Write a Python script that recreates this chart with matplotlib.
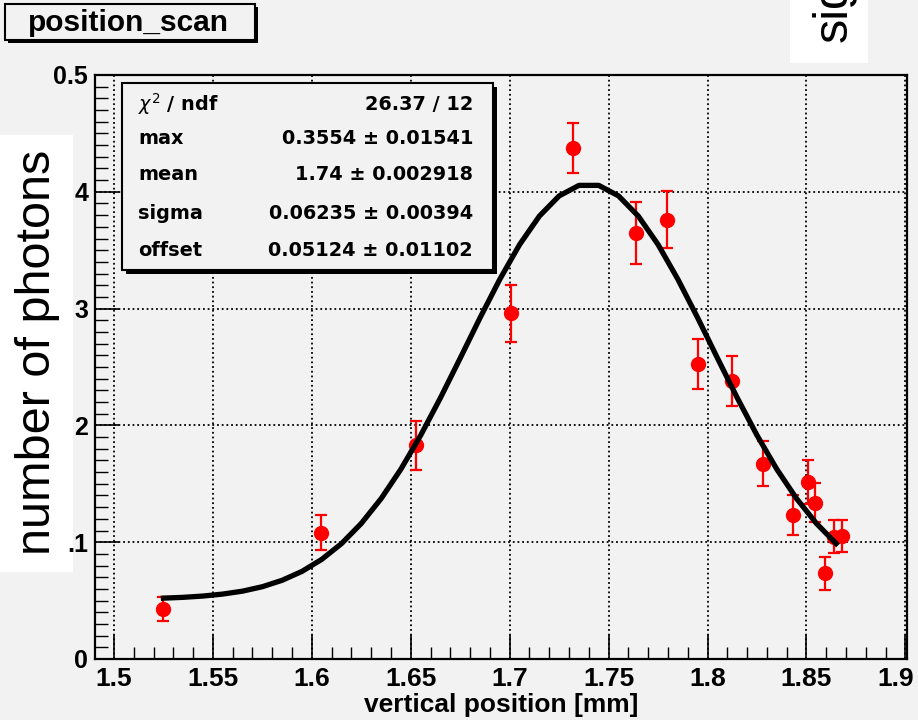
import matplotlib
matplotlib.use("Agg")
import matplotlib.pyplot as plt
from matplotlib.patches import Rectangle
from matplotlib.ticker import MultipleLocator
from matplotlib.transforms import ScaledTranslation


# measured points (vertical position in mm, signal, error)
POS_MM = [1.5247, 1.6045, 1.6525, 1.7005, 1.7318, 1.7636, 1.7793, 1.7950,
          1.8126, 1.8278, 1.8430, 1.8510, 1.8545, 1.8596, 1.8641, 1.8677]
SIGNAL = [0.0428, 0.1080, 0.1830, 0.2960, 0.4375, 0.3647, 0.3759, 0.2526,
          0.2380, 0.1670, 0.1233, 0.1515, 0.1336, 0.0736, 0.1045, 0.1053]
SIGNAL_ERR = [0.0103, 0.0150, 0.0210, 0.0244, 0.0218, 0.0265, 0.0244, 0.0218,
              0.0214, 0.0193, 0.0175, 0.0188, 0.0167, 0.0141, 0.0141, 0.0141]

# fitted curve
FIT_X = [1.525, 1.535, 1.545, 1.555, 1.565, 1.575, 1.585, 1.595, 1.605,
         1.615, 1.625, 1.635, 1.645, 1.655, 1.665, 1.675, 1.685, 1.695,
         1.705, 1.715, 1.725, 1.735, 1.745, 1.755, 1.765, 1.775, 1.785,
         1.795, 1.805, 1.815, 1.825, 1.835, 1.845, 1.855, 1.865]
FIT_Y = [0.0521, 0.0528, 0.0539, 0.0556, 0.0581, 0.0619, 0.0674, 0.0750,
         0.0853, 0.0988, 0.1161, 0.1373, 0.1625, 0.1915, 0.2236, 0.2576,
         0.2921, 0.3251, 0.3548, 0.3792, 0.3965, 0.4055, 0.4055, 0.3965,
         0.3792, 0.3548, 0.3251, 0.2921, 0.2576, 0.2236, 0.1915, 0.1625,
         0.1373, 0.1161, 0.0988]

X_TICKS = [1.5, 1.55, 1.6, 1.65, 1.7, 1.75, 1.8, 1.85, 1.9]
X_TICK_LABELS = ["1.5", "1.55", "1.6", "1.65", "1.7", "1.75", "1.8", "1.85", "1.9"]
Y_TICKS = [0.0, 0.1, 0.2, 0.3, 0.4, 0.5]
# the leading "0." of most labels is hidden behind the pasted y-title box
Y_TICK_LABELS = ["0", ".1", "2", "3", "4", "0.5"]

STAT_NAMES = [r"$\chi^{2}$ / ndf", "max", "mean", "sigma", "offset"]
STAT_VALUES = ["26.37 / 12", "0.3554 \u00b1 0.01541", "1.74 \u00b1 0.002918",
               "0.06235 \u00b1 0.00394", "0.05124 \u00b1 0.01102"]

TITLE = "position_scan"
X_LABEL = "vertical position [mm]"

BG = "#f2f2f2"
W, H = 918, 720
HELV = ["Liberation Sans", "DejaVu Sans"]


def fx(px):
    return px / W


def fy(py):
    return 1 - py / H


def box(fig, x0, y0, x1, y1, shadow=4, face=BG):
    """Framed box in pixel coordinates, ROOT style with a drop shadow."""
    if shadow:
        fig.patches.append(Rectangle((fx(x0 + shadow), fy(y1 + shadow)),
                                     fx(x1 - x0), (y1 - y0) / H,
                                     transform=fig.transFigure,
                                     facecolor="black", edgecolor="none",
                                     zorder=2))
    fig.patches.append(Rectangle((fx(x0), fy(y1)), fx(x1 - x0), (y1 - y0) / H,
                                 transform=fig.transFigure, facecolor=face,
                                 edgecolor="black", linewidth=1.5, zorder=2))


def main():
    plt.rcParams["font.family"] = ["DejaVu Sans"]
    fig = plt.figure(figsize=(W / 100, H / 100), dpi=100, facecolor=BG)

    ax = fig.add_axes([fx(95), fy(659), fx(907 - 95), (659 - 75) / H])
    ax.set_facecolor(BG)

    ax.errorbar(POS_MM, SIGNAL, yerr=SIGNAL_ERR, fmt="o", color="red",
                markersize=10, elinewidth=1.6, capsize=4.5, capthick=1.6,
                zorder=3)
    ax.plot(FIT_X, FIT_Y, color="black", linewidth=3.8, zorder=4)

    ax.set_xlim(1.4904, 1.9008)
    ax.set_ylim(0, 0.5)
    ax.set_xticks(X_TICKS)
    ax.set_xticklabels(X_TICK_LABELS, family=HELV, weight="bold", fontsize=19)
    ax.set_yticks(Y_TICKS)
    ax.set_yticklabels(Y_TICK_LABELS, family=HELV, weight="bold", fontsize=18)
    ax.xaxis.set_minor_locator(MultipleLocator(0.01))
    ax.yaxis.set_minor_locator(MultipleLocator(0.01))
    ax.tick_params(which="major", direction="in", length=17, width=1.2,
                   top=False, right=False)
    ax.tick_params(which="minor", direction="in", length=9, width=1.0,
                   top=False, right=False)
    ax.tick_params(axis="x", pad=6)
    ax.tick_params(axis="y", pad=5)
    ax.grid(True, which="major", color="black", linestyle=(0, (1, 1.6)),
            linewidth=1.3)
    for spine in ax.spines.values():
        spine.set_linewidth(1.6)

    # last x label sits a little inside the canvas, as in ROOT's output
    last = ax.get_xticklabels()[-1]
    last.set_transform(last.get_transform()
                       + ScaledTranslation(-7 / 72, 0, fig.dpi_scale_trans))

    ax.set_xlabel(X_LABEL, family=HELV, weight="bold", fontsize=19,
                  labelpad=1)

    # title box
    box(fig, 5, 4, 255, 40, shadow=3)
    fig.text(fx(128), fy(23), TITLE, ha="center", va="center",
             fontsize=21.5, weight="bold", family=HELV, zorder=3)

    # fit statistics box
    box(fig, 122, 83, 493, 270, shadow=4)
    rows_y = [104, 138, 175, 213, 250]
    for name, value, py in zip(STAT_NAMES, STAT_VALUES, rows_y):
        fig.text(fx(138), fy(py), name, ha="left", va="center",
                 fontsize=13.9, weight="bold", zorder=3)
        fig.text(fx(473), fy(py), value, ha="right", va="center",
                 fontsize=13.9, weight="bold", zorder=3)

    # pasted axis-title boxes (white, sitting on the canvas)
    fig.patches.append(Rectangle((0, fy(572)), fx(73), (572 - 135) / H,
                                 transform=fig.transFigure, facecolor="white",
                                 edgecolor="none", zorder=-1))
    fig.text(fx(38), fy(352), "number of photons", rotation=90, ha="center",
             va="center", fontsize=35, family=HELV, zorder=6)

    sig_box = Rectangle((fx(790), fy(63)), fx(868 - 790), 63 / H,
                        transform=fig.transFigure, facecolor="white",
                        edgecolor="none", zorder=5)
    fig.patches.append(sig_box)
    sig = fig.text(fx(834), fy(42), "sigma", rotation=90, ha="center",
                   va="bottom", fontsize=35, family=HELV, zorder=6)
    sig.set_clip_path(sig_box)

    fig.savefig("out.png", dpi=100, facecolor=BG)
    plt.close(fig)


if __name__ == "__main__":
    main()
